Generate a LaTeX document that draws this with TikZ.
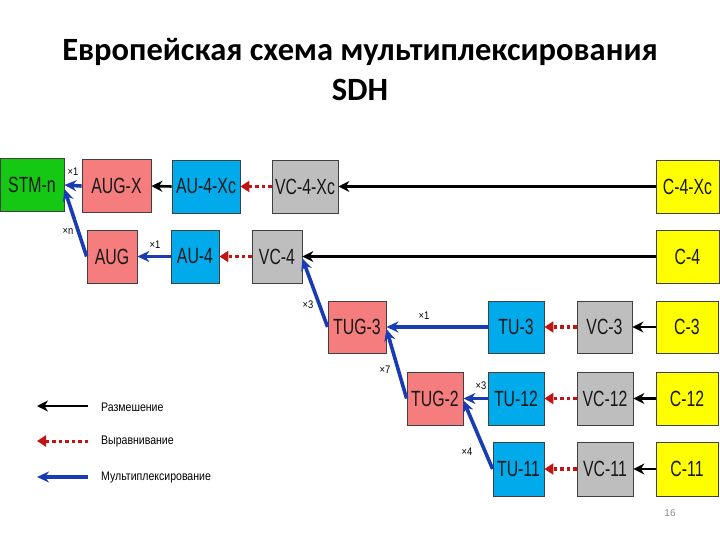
\documentclass[tikz,border=0pt]{standalone}
\usepackage{fontspec}
\setmainfont{Liberation Sans}
\newfontfamily\titlefont{Carlito}
\newfontfamily\boxfont[FakeStretch=0.72]{Liberation Sans}
\newfontfamily\smallfont[FakeStretch=0.85]{Liberation Sans}
\usetikzlibrary{arrows.meta}
\definecolor{cgreen}{RGB}{20,200,20}
\definecolor{cpink}{RGB}{245,125,125}
\definecolor{cblue}{RGB}{0,170,235}
\definecolor{cgray}{RGB}{190,190,190}
\definecolor{cyellow}{RGB}{255,255,0}
\definecolor{arrblue}{RGB}{25,60,180}
\definecolor{arrred}{RGB}{195,20,20}
\tikzset{
  box/.style={draw=black!75, line width=0.8pt, inner sep=0pt, minimum height=53pt,
    font=\boxfont\fontsize{22}{24}\selectfont, text=black!90},
  place/.style={draw=black, line width=2.6pt, -{Stealth[length=11pt,width=11pt]}},
  alignarrow/.style={draw=arrred, line width=3.5pt, dash pattern=on 3.5pt off 3pt, -{Triangle[length=9pt,width=11pt]}},
  mux/.style={draw=arrblue, line width=3.6pt, -{Stealth[length=12pt,width=11pt]}},
  mlabel/.style={font=\smallfont\fontsize{11}{12}\selectfont, inner sep=0pt},
  legtext/.style={font=\smallfont\fontsize{12.4}{14}\selectfont, anchor=west, inner sep=0pt},
}
\begin{document}
\begin{tikzpicture}[x=1pt,y=-1pt]
\useasboundingbox (0,0) rectangle (720,540);
% title
\node[font=\titlefont\bfseries\fontsize{32.5}{40}\selectfont, align=center] (title) at (360,70)
  {Европейская схема мультиплексирования\\SDH};
% boxes
\node[box, fill=cgreen, minimum width=64pt] (stm) at (32,185) {STM-n};
\node[box, fill=cpink, minimum width=69pt] (augx) at (116.5,186) {AUG-X};
\node[box, fill=cblue, minimum width=68pt] (au4xc) at (206,186.5) {AU-4-Xc};
\node[box, fill=cgray, minimum width=66pt] (vc4xc) at (305,186.5) {VC-4-Xc};
\node[box, fill=cyellow, minimum width=63pt] (c4xc) at (687.5,186.5) {C-4-Xc};
\node[box, fill=cpink, minimum width=50pt] (aug) at (112,256.5) {AUG};
\node[box, fill=cblue, minimum width=48pt] (au4) at (195,256.5) {AU-4};
\node[box, fill=cgray, minimum width=50pt] (vc4) at (277,256.5) {VC-4};
\node[box, fill=cyellow, minimum width=63pt] (c4) at (687.5,256.5) {C-4};
\node[box, fill=cpink, minimum width=58pt, minimum height=52pt] (tug3) at (357,327) {TUG-3};
\node[box, fill=cblue, minimum width=56pt, minimum height=52pt] (tu3) at (516,327) {TU-3};
\node[box, fill=cgray, minimum width=55pt, minimum height=52pt] (vc3) at (604.5,327) {VC-3};
\node[box, fill=cyellow, minimum width=62pt, minimum height=52pt] (c3) at (687,327) {C-3};
\node[box, fill=cpink, minimum width=56pt] (tug2) at (435,398.5) {TUG-2};
\node[box, fill=cblue, minimum width=56pt] (tu12) at (516,398.5) {TU-12};
\node[box, fill=cgray, minimum width=56pt] (vc12) at (605,398.5) {VC-12};
\node[box, fill=cyellow, minimum width=62pt] (c12) at (687,398.5) {C-12};
\node[box, fill=cblue, minimum width=51pt, minimum height=54pt] (tu11) at (518.5,469) {TU-11};
\node[box, fill=cgray, minimum width=56pt, minimum height=54pt] (vc11) at (605,469) {VC-11};
\node[box, fill=cyellow, minimum width=62pt, minimum height=54pt] (c11) at (687,469) {C-11};
% connectors
\draw[place] (c4xc.west) -- (vc4xc.east);
\draw[alignarrow] (vc4xc.west) -- (au4xc.east);
\draw[place] (au4xc.west) -- (augx.east);
\draw[mux] (augx.west) -- (stm.east);
\draw[mux] (aug.west) -- ([yshift=-4pt]stm.east);
\draw[mux] (au4.west) -- (aug.east);
\draw[alignarrow] (vc4.west) -- (au4.east);
\draw[place] (c4.west) -- (vc4.east);
\draw[mux] (tug3.west) -- ([yshift=-2pt]vc4.east);
\draw[mux] (tu3.west) -- (tug3.east);
\draw[alignarrow] (vc3.west) -- (tu3.east);
\draw[place] (c3.west) -- (vc3.east);
\draw[mux] (tug2.west) -- ([yshift=-2pt]tug3.east);
\draw[mux] (tu12.west) -- (tug2.east);
\draw[alignarrow] (vc12.west) -- (tu12.east);
\draw[place] (c12.west) -- (vc12.east);
\draw[mux] (tu11.west) -- ([yshift=-2pt]tug2.east);
\draw[alignarrow] (vc11.west) -- (tu11.east);
\draw[place] (c11.west) -- (vc11.east);
% multiplicity labels
\node[mlabel] (l1) at (73,172) {×1};
\node[mlabel] (l2) at (68,231) {×n};
\node[mlabel] (l3) at (155,245) {×1};
\node[mlabel] (l4) at (308,305) {×3};
\node[mlabel] (l5) at (424,316) {×1};
\node[mlabel] (l6) at (385,370) {×7};
\node[mlabel] (l7) at (481,386) {×3};
\node[mlabel] (l8) at (467,452) {×4};
% legend
\coordinate (la1) at (88,406); \coordinate (lb1) at (37,406);
\coordinate (la2) at (88,441); \coordinate (lb2) at (37,441);
\coordinate (la3) at (88,477); \coordinate (lb3) at (37,477);
\draw[place, line width=2.2pt] (la1) -- (lb1);
\draw[alignarrow, line width=3pt] (la2) -- (lb2);
\draw[mux, line width=3.2pt] (la3) -- (lb3);
\node[legtext] (t1) at (101,407) {Размешение};
\node[legtext] (t2) at (101,442) {Выравнивание};
\node[legtext] (t3) at (101,478) {Мультиплексирование};
% page number
\node[font=\fontsize{10}{12}\selectfont, text=black!45] (pg) at (670,513) {16};
\end{tikzpicture}
\end{document}
